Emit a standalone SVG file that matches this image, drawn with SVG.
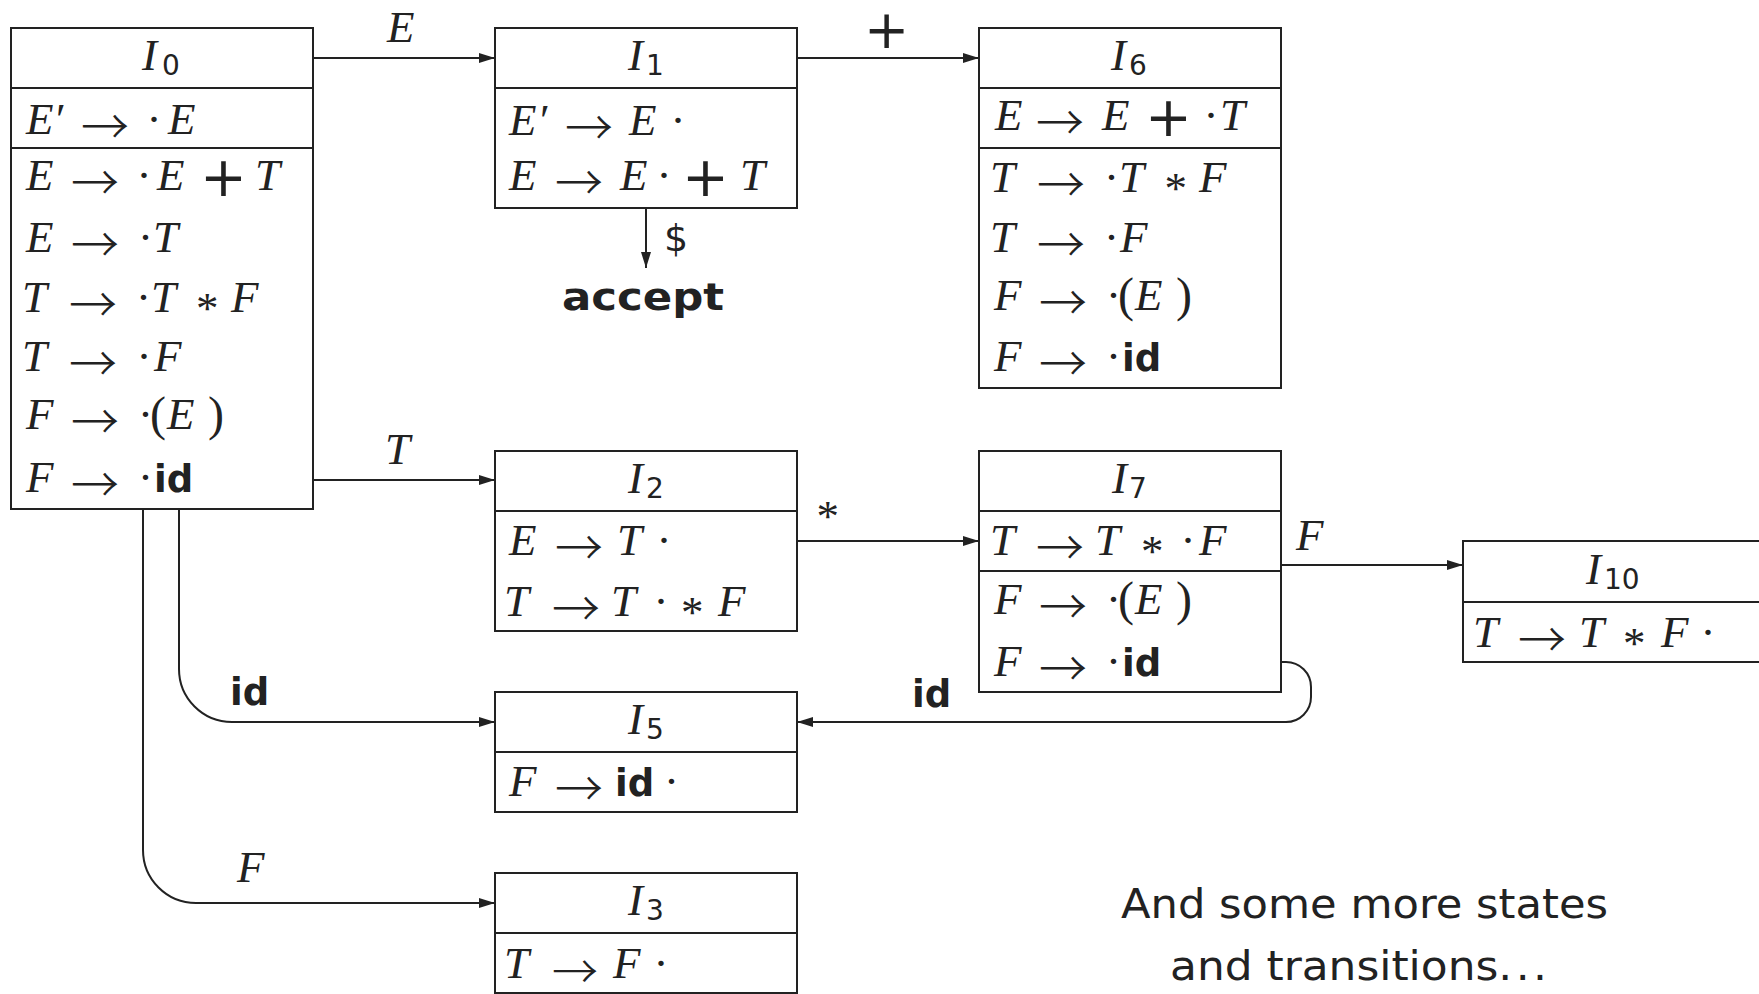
<svg xmlns="http://www.w3.org/2000/svg" width="1759" height="994" viewBox="0 0 1759 994">
<style>
.box{fill:#fff;stroke:#222;stroke-width:2}
.sep{stroke:#222;stroke-width:2}
.edge{fill:none;stroke:#222;stroke-width:2}
text{fill:#222}
.m{font-family:"Liberation Serif",serif;font-style:italic;font-size:45px}
.r{font-family:"Liberation Serif","DejaVu Serif",serif;font-style:normal;font-size:45px}
.pa{font-family:"Liberation Serif","DejaVu Serif",serif;font-style:normal;font-size:48px}
.ar{font-family:"Noto Sans CJK SC","DejaVu Sans",sans-serif;font-style:normal;font-weight:300;font-size:48px}
.as{font-family:"Liberation Serif",serif;font-style:normal;font-size:45px}
.pl{font-family:"DejaVu Sans",sans-serif;font-style:normal;font-size:56px}
.sub{font-family:"DejaVu Sans",sans-serif;font-style:normal;font-size:28px}
.b{font-family:"DejaVu Sans",sans-serif;font-style:normal;font-weight:bold;font-size:37px}
.sans{font-family:"DejaVu Sans",sans-serif;font-size:41px}
</style>
<defs>
<marker id="ah" markerUnits="userSpaceOnUse" markerWidth="16" markerHeight="10" refX="16" refY="5" orient="auto">
<path d="M0,0 L16,5 L0,10 z" fill="#222"/>
</marker>
</defs>

<g id="connectors">
<path class="edge" d="M313,58 H495" marker-end="url(#ah)"/>
<path class="edge" d="M797,58 H979" marker-end="url(#ah)"/>
<path class="edge" d="M313,480 H495" marker-end="url(#ah)"/>
<path class="edge" d="M797,541 H979" marker-end="url(#ah)"/>
<path class="edge" d="M1281,565 H1463" marker-end="url(#ah)"/>
<path class="edge" d="M179,509 V669 A53,53 0 0 0 232,722 H495" marker-end="url(#ah)"/>
<path class="edge" d="M143,509 V850 A53,53 0 0 0 196,903 H495" marker-end="url(#ah)"/>
<path class="edge" d="M1281,662 H1286 A25,25 0 0 1 1311,687 V697 A25,25 0 0 1 1286,722 H797" marker-end="url(#ah)"/>
<path class="edge" d="M646,208 V268" marker-end="url(#ah)"/>
<text class="m" x="387" y="42">E</text>
<text class="pl" x="864" y="48" style="font-size:54px">+</text>
<text class="m" x="385" y="464">T</text>
<text class="as" x="816.5" y="531">*</text>
<text class="m" x="1296" y="550">F</text>
<text class="b" x="230" y="705">id</text>
<text class="b" x="912" y="707">id</text>
<text class="m" x="237" y="882">F</text>
<text class="sans" x="664" y="251" style="font-size:38px">$</text>
<text class="b" x="562" y="310" style="font-size:38px" textLength="162" lengthAdjust="spacingAndGlyphs">accept</text>
</g>

<g id="I0">
<rect class="box" x="11" y="28" width="302" height="481"/>
<line class="sep" x1="11" y1="88" x2="313" y2="88"/>
<line class="sep" x1="11" y1="148" x2="313" y2="148"/>
<text><tspan class="m" x="142" y="70">I</tspan><tspan class="sub" x="162" y="75">0</tspan></text>
<text><tspan class="m" x="26" y="134">E</tspan><tspan class="r" x="56" y="134">′</tspan><tspan class="ar" x="81" y="144">→</tspan><tspan class="r" x="146.5" y="134">·</tspan><tspan class="m" x="168" y="134">E</tspan></text>
<text><tspan class="m" x="26" y="190">E</tspan><tspan class="ar" x="71" y="200">→</tspan><tspan class="r" x="136.5" y="190">·</tspan><tspan class="m" x="157" y="190">E</tspan><tspan class="pl" x="200" y="196">+</tspan><tspan class="m" x="255" y="190">T</tspan></text>
<text><tspan class="m" x="26" y="252">E</tspan><tspan class="ar" x="71" y="262">→</tspan><tspan class="r" x="138" y="252">·</tspan><tspan class="m" x="153" y="252">T</tspan></text>
<text><tspan class="m" x="22" y="312">T</tspan><tspan class="ar" x="69" y="322">→</tspan><tspan class="r" x="136" y="312">·</tspan><tspan class="m" x="151" y="312">T</tspan><tspan class="as" x="196" y="323">*</tspan><tspan class="m" x="231" y="312">F</tspan></text>
<text><tspan class="m" x="22" y="371">T</tspan><tspan class="ar" x="69" y="381">→</tspan><tspan class="r" x="136.5" y="371">·</tspan><tspan class="m" x="154" y="371">F</tspan></text>
<text><tspan class="m" x="26" y="429">F</tspan><tspan class="ar" x="71" y="439">→</tspan><tspan class="r" x="138" y="429">·</tspan><tspan class="pa" x="150" y="430">(</tspan><tspan class="m" x="167" y="429">E</tspan><tspan class="pa" x="208" y="430">)</tspan></text>
<text><tspan class="m" x="26" y="492">F</tspan><tspan class="ar" x="71" y="502">→</tspan><tspan class="r" x="138" y="492">·</tspan><tspan class="b" x="154" y="492">id</tspan></text>
</g>

<g id="I1">
<rect class="box" x="495" y="28" width="302" height="180"/>
<line class="sep" x1="495" y1="88" x2="797" y2="88"/>
<text><tspan class="m" x="628" y="70">I</tspan><tspan class="sub" x="646" y="75">1</tspan></text>
<text><tspan class="m" x="509" y="135">E</tspan><tspan class="r" x="540" y="135">′</tspan><tspan class="ar" x="565" y="145">→</tspan><tspan class="m" x="629" y="135">E</tspan><tspan class="r" x="670.5" y="135">·</tspan></text>
<text><tspan class="m" x="509" y="190">E</tspan><tspan class="ar" x="555" y="200">→</tspan><tspan class="m" x="620" y="190">E</tspan><tspan class="r" x="656.5" y="190">·</tspan><tspan class="pl" x="682" y="196">+</tspan><tspan class="m" x="740" y="190">T</tspan></text>
</g>

<g id="I6">
<rect class="box" x="979" y="28" width="302" height="360"/>
<line class="sep" x1="979" y1="88" x2="1281" y2="88"/>
<line class="sep" x1="979" y1="148" x2="1281" y2="148"/>
<text><tspan class="m" x="1111" y="70">I</tspan><tspan class="sub" x="1129" y="75">6</tspan></text>
<text><tspan class="m" x="995" y="130">E</tspan><tspan class="ar" x="1036" y="140">→</tspan><tspan class="m" x="1102" y="130">E</tspan><tspan class="pl" x="1145" y="136">+</tspan><tspan class="r" x="1203.5" y="130">·</tspan><tspan class="m" x="1220" y="130">T</tspan></text>
<text><tspan class="m" x="990" y="192">T</tspan><tspan class="ar" x="1037" y="202">→</tspan><tspan class="r" x="1104" y="192">·</tspan><tspan class="m" x="1119" y="192">T</tspan><tspan class="as" x="1164.5" y="203">*</tspan><tspan class="m" x="1199" y="192">F</tspan></text>
<text><tspan class="m" x="990" y="252">T</tspan><tspan class="ar" x="1037" y="262">→</tspan><tspan class="r" x="1104" y="252">·</tspan><tspan class="m" x="1120" y="252">F</tspan></text>
<text><tspan class="m" x="994" y="310">F</tspan><tspan class="ar" x="1039" y="320">→</tspan><tspan class="r" x="1106" y="310">·</tspan><tspan class="pa" x="1118" y="311">(</tspan><tspan class="m" x="1135" y="310">E</tspan><tspan class="pa" x="1176" y="311">)</tspan></text>
<text><tspan class="m" x="994" y="371">F</tspan><tspan class="ar" x="1039" y="381">→</tspan><tspan class="r" x="1106" y="371">·</tspan><tspan class="b" x="1122" y="371">id</tspan></text>
</g>

<g id="I2">
<rect class="box" x="495" y="451" width="302" height="180"/>
<line class="sep" x1="495" y1="511" x2="797" y2="511"/>
<text><tspan class="m" x="628" y="493">I</tspan><tspan class="sub" x="646" y="498">2</tspan></text>
<text><tspan class="m" x="509" y="555">E</tspan><tspan class="ar" x="555" y="565">→</tspan><tspan class="m" x="617" y="555">T</tspan><tspan class="r" x="656.5" y="555">·</tspan></text>
<text><tspan class="m" x="504" y="616">T</tspan><tspan class="ar" x="552" y="626">→</tspan><tspan class="m" x="611" y="616">T</tspan><tspan class="r" x="653.5" y="616">·</tspan><tspan class="as" x="681" y="627">*</tspan><tspan class="m" x="718" y="616">F</tspan></text>
</g>

<g id="I7">
<rect class="box" x="979" y="451" width="302" height="241"/>
<line class="sep" x1="979" y1="511" x2="1281" y2="511"/>
<line class="sep" x1="979" y1="571" x2="1281" y2="571"/>
<text><tspan class="m" x="1112" y="493">I</tspan><tspan class="sub" x="1129" y="498">7</tspan></text>
<text><tspan class="m" x="990" y="555">T</tspan><tspan class="ar" x="1036" y="565">→</tspan><tspan class="m" x="1095" y="555">T</tspan><tspan class="as" x="1141" y="566">*</tspan><tspan class="r" x="1180.5" y="555">·</tspan><tspan class="m" x="1199" y="555">F</tspan></text>
<text><tspan class="m" x="994" y="614">F</tspan><tspan class="ar" x="1039" y="624">→</tspan><tspan class="r" x="1106" y="614">·</tspan><tspan class="pa" x="1118" y="615">(</tspan><tspan class="m" x="1135" y="614">E</tspan><tspan class="pa" x="1176" y="615">)</tspan></text>
<text><tspan class="m" x="994" y="676">F</tspan><tspan class="ar" x="1039" y="686">→</tspan><tspan class="r" x="1106" y="676">·</tspan><tspan class="b" x="1122" y="676">id</tspan></text>
</g>

<g id="I10">
<rect class="box" x="1463" y="541" width="330" height="121"/>
<line class="sep" x1="1463" y1="602" x2="1793" y2="602"/>
<text><tspan class="m" x="1586" y="584">I</tspan><tspan class="sub" x="1604" y="589">10</tspan></text>
<text><tspan class="m" x="1473" y="647">T</tspan><tspan class="ar" x="1518" y="657">→</tspan><tspan class="m" x="1579" y="647">T</tspan><tspan class="as" x="1623" y="658">*</tspan><tspan class="m" x="1661" y="647">F</tspan><tspan class="r" x="1700.5" y="647">·</tspan></text>
</g>

<g id="I5">
<rect class="box" x="495" y="692" width="302" height="120"/>
<line class="sep" x1="495" y1="752" x2="797" y2="752"/>
<text><tspan class="m" x="628" y="734">I</tspan><tspan class="sub" x="646" y="739">5</tspan></text>
<text><tspan class="m" x="509" y="796">F</tspan><tspan class="ar" x="555" y="806">→</tspan><tspan class="b" x="615" y="796">id</tspan><tspan class="r" x="664" y="796">·</tspan></text>
</g>

<g id="I3">
<rect class="box" x="495" y="873" width="302" height="120"/>
<line class="sep" x1="495" y1="933" x2="797" y2="933"/>
<text><tspan class="m" x="628" y="915">I</tspan><tspan class="sub" x="646" y="920">3</tspan></text>
<text><tspan class="m" x="504" y="978">T</tspan><tspan class="ar" x="552" y="988" style="font-size:46px">→</tspan><tspan class="m" x="613" y="978">F</tspan><tspan class="r" x="653.5" y="978">·</tspan></text>
</g>

<g id="note">
<text class="sans" x="1121" y="918" textLength="487" lengthAdjust="spacingAndGlyphs">And some more states</text>
<text class="sans" x="1170" y="980" textLength="377" lengthAdjust="spacingAndGlyphs">and transitions.<tspan style="font-size:10px"> </tspan>.<tspan style="font-size:10px"> </tspan>.</text>
</g>
</svg>
